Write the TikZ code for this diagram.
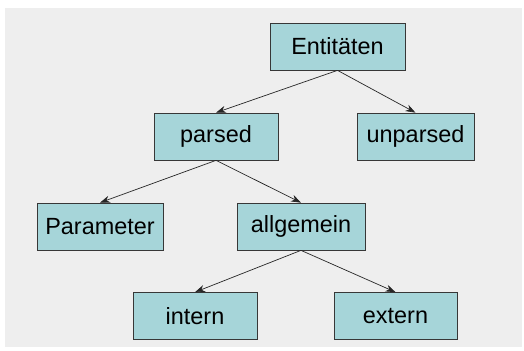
\documentclass[tikz,border=0pt]{standalone}
\usepackage{fontspec}
\setmainfont{Liberation Sans}
\usetikzlibrary{arrows.meta}

\definecolor{boxfill}{RGB}{166,213,217}
\definecolor{boxline}{RGB}{55,55,55}
\definecolor{backgr}{RGB}{238,238,238}

\begin{document}
\begin{tikzpicture}[x=0.03cm,y=-0.03cm]
        \tikzstyle{box}=[draw=boxline,fill=boxfill,line width=0.6pt,minimum height=1.41cm,inner sep=0pt,font=\fontsize{20}{24}\selectfont]
        \tikzstyle{edge}=[draw=black!85,line width=0.6pt,-{Stealth[length=8.5pt,width=6pt]}]
        \useasboundingbox (0,0) rectangle (524,350);
        \fill [white] (0,0) rectangle (524,350);
        \fill [backgr] (5,8) rectangle (522,347);
        \node [box,minimum width=4.05cm] (ent) at (337.5,46.5) {Entitäten};
        \node [box,minimum width=3.72cm] (parsed) at (216,136.5) {parsed};
        \node [box,minimum width=3.51cm] (unparsed) at (415.5,136.5) {unparsed};
        \node [box,minimum width=3.78cm] (param) at (100,226.5) {Parameter};
        \node [box,minimum width=3.84cm] (allg) at (301,226.5) {allgemein};
        \node [box,minimum width=3.72cm] (intern) at (195,316) {intern};
        \node [box,minimum width=3.69cm] (extern) at (395.5,316) {extern};
        \draw [edge] (ent.south) -- (parsed.north);
        \draw [edge] (ent.south) -- (unparsed.north);
        \draw [edge] (parsed.south) -- (param.north);
        \draw [edge] (parsed.south) -- (allg.north);
        \draw [edge] (allg.south) -- (intern.north);
        \draw [edge] (allg.south) -- (extern.north);
\end{tikzpicture}
\end{document}
